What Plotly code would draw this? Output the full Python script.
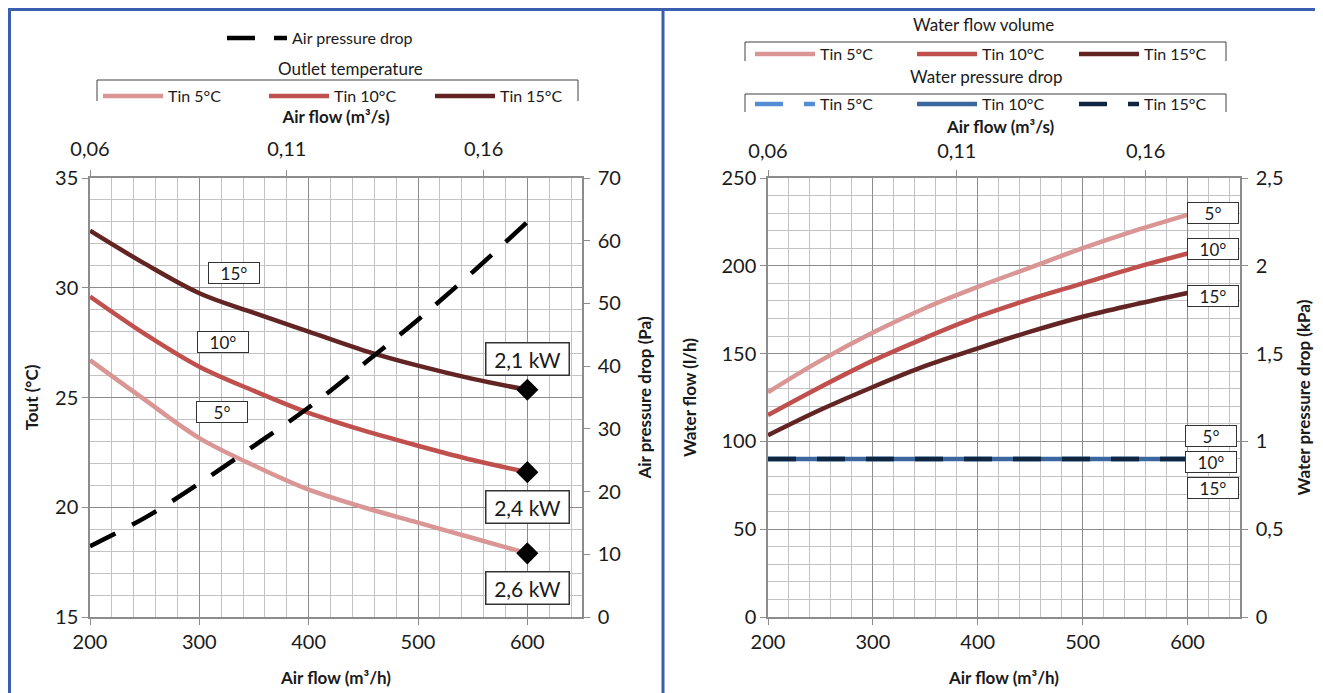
import plotly.graph_objects as go

# ---------------- data ----------------
air_flow = [200, 250, 300, 350, 400, 450, 500, 550, 600]          # m3/h
tout_5 = [26.7, 24.9, 23.15, 21.9, 20.8, 20.0, 19.3, 18.6, 17.9]  # degC
tout_10 = [29.6, 27.9, 26.4, 25.3, 24.3, 23.5, 22.8, 22.15, 21.6]
tout_15 = [32.6, 31.1, 29.75, 28.85, 28.0, 27.15, 26.45, 25.85, 25.35]
air_dp = [11.3, 15.8, 21.3, 27.3, 33.4, 40.3, 47.4, 55.0, 63.0]   # Pa
water_flow_5 = [128, 146, 162, 176, 188, 199, 210, 220, 229]       # l/h
water_flow_10 = [115, 131, 146, 159, 171, 181, 190, 199, 207]
water_flow_15 = [103.5, 118, 131, 143, 153, 162.5, 171, 178, 184.5]
water_dp_5 = [0.9, 0.9, 0.9, 0.9, 0.9, 0.9, 0.9, 0.9, 0.9]         # kPa
water_dp_10 = [0.9, 0.9, 0.9, 0.9, 0.9, 0.9, 0.9, 0.9, 0.9]
water_dp_15 = [0.9, 0.9, 0.9, 0.9, 0.9, 0.9, 0.9, 0.9, 0.9]
series_names = ["Tin 5°C", "Tin 10°C", "Tin 15°C"]
curve_labels = ["5°", "10°", "15°"]
capacity_labels = ["2,6 kW", "2,4 kW", "2,1 kW"]   # for Tin 5, 10, 15
top_ticks = [0.06, 0.11, 0.16]                      # m3/s

# ---------------- style ----------------
PAGE_W, PAGE_H = 1323, 693
OFF = 8                       # default body margin of the html page
W, H = PAGE_W - OFF, PAGE_H - OFF
FONT = "Lato"
reds = ["#D99694", "#C0504D", "#632523"]
blues = ["#558ED5", "#3B679E", "#10253F"]
major_grid = "#8C8C8C"
minor_grid = "#C3C3C3"
axis_col = "#8C8C8C"
txt = "#1A1A1A"
frame_blue = "#3A5FAF"


def px(x):
    return (x - OFF) / W


def py(y):
    return 1 - (y - OFF) / H


fig = go.Figure()

# ----- left chart: outlet temperature -----
for name, vals, col in zip(series_names, [tout_5, tout_10, tout_15], reds):
    fig.add_trace(go.Scatter(x=air_flow, y=vals, name=name, mode="lines",
                             line=dict(color=col, width=4.5, shape="spline"),
                             xaxis="x", yaxis="y", legend="legend2"))
fig.add_trace(go.Scatter(x=air_flow, y=air_dp, name="Air pressure drop", mode="lines",
                         line=dict(color="black", width=4.5, dash="28px,19px", shape="spline"),
                         xaxis="x", yaxis="y2", legend="legend"))
fig.add_trace(go.Scatter(x=[air_flow[-1]] * 3, y=[tout_5[-1], tout_10[-1], tout_15[-1]],
                         mode="markers", showlegend=False, hoverinfo="skip",
                         marker=dict(symbol="diamond", size=17, color="black"),
                         xaxis="x", yaxis="y"))
# dummy trace to keep the top (m3/s) axis alive
fig.add_trace(go.Scatter(x=top_ticks, y=[None] * 3, mode="lines", showlegend=False,
                         hoverinfo="skip", xaxis="x2", yaxis="y"))

# ----- right chart: water flow & water pressure drop -----
for name, vals, col in zip(series_names, [water_flow_5, water_flow_10, water_flow_15], reds):
    fig.add_trace(go.Scatter(x=air_flow, y=vals, name=name, mode="lines",
                             line=dict(color=col, width=4.5, shape="spline"),
                             xaxis="x3", yaxis="y3", legend="legend3"))
wdp_dash = ["28px,21px", "solid", "28px,21px"]
for name, vals, col, dsh in zip(series_names, [water_dp_5, water_dp_10, water_dp_15], blues, wdp_dash):
    fig.add_trace(go.Scatter(x=air_flow, y=vals, name=name, mode="lines",
                             line=dict(color=col, width=4.5, dash=dsh),
                             xaxis="x3", yaxis="y4", legend="legend4"))
fig.add_trace(go.Scatter(x=top_ticks, y=[None] * 3, mode="lines", showlegend=False,
                         hoverinfo="skip", xaxis="x4", yaxis="y3"))

# ----- axes -----
tickfont = dict(family=FONT, size=20, color=txt)
titlefont = dict(family=FONT, size=17, color=txt, weight="bold")


def bottom_x(domain, anchor):
    return dict(domain=domain, anchor=anchor, range=[200, 650], tick0=200, dtick=100,
                showgrid=True, gridcolor=major_grid, gridwidth=1,
                minor=dict(tick0=200, dtick=20, showgrid=True, gridcolor=minor_grid, gridwidth=1),
                showline=True, linecolor=axis_col, linewidth=1.5, mirror=False,
                ticks="outside", ticklen=6, tickcolor=axis_col, tickfont=tickfont,
                title=dict(text="Air flow (m³/h)", font=titlefont, standoff=20),
                zeroline=False, fixedrange=True, automargin=False)


def top_x(overlay, anchor, title, standoff, lblstand):
    return dict(overlaying=overlay, anchor=anchor, side="top", range=[0.06, 0.185],
                tickvals=top_ticks, showgrid=False, showline=True, linecolor=axis_col,
                linewidth=1.5, ticks="outside", ticklen=6, tickcolor=axis_col,
                tickfont=tickfont, ticklabelstandoff=lblstand,
                title=dict(text=title, font=titlefont, standoff=standoff),
                zeroline=False, automargin=False)


def left_y(domain, anchor, rng, dtick, mdtick, title, standoff):
    return dict(domain=domain, anchor=anchor, range=rng, tick0=rng[0], dtick=dtick,
                showgrid=True, gridcolor=major_grid,
                minor=dict(tick0=rng[0], dtick=mdtick, showgrid=True, gridcolor=minor_grid),
                showline=True, linecolor=axis_col, linewidth=1.5,
                ticks="outside", ticklen=6, tickcolor=axis_col, tickfont=tickfont,
                title=dict(text=title, font=titlefont, standoff=standoff), zeroline=False,
                automargin=False)


def right_y(overlay, anchor, rng, dtick, title, standoff):
    return dict(overlaying=overlay, anchor=anchor, side="right", range=rng, dtick=dtick,
                showgrid=False, showline=True, linecolor=axis_col, linewidth=1.5,
                ticks="outside", ticklen=6, tickcolor=axis_col, tickfont=tickfont,
                ticklabelstandoff=4,
                title=dict(text=title, font=titlefont, standoff=standoff),
                zeroline=False, automargin=False)


ydom = [py(617), py(178)]
fig.update_layout(
    xaxis=bottom_x([px(90), px(582)], "y"),
    xaxis2=top_x("x", "y", "Air flow (m³/s)", 8, 6),
    yaxis=left_y(ydom, "x", [15, 35], 5, 1, "Tout (°C)", 12),
    yaxis2=right_y("y", "x", [0, 70], 10, "Air pressure drop (Pa)", 19),
    xaxis3=bottom_x([px(768), px(1240)], "y3"),
    xaxis4=top_x("x3", "y3", "", 0, 4),
    yaxis3=left_y(ydom, "x3", [0, 250], 50, 10, "Water flow (l/h)", 20),
    yaxis4=right_y("y3", "x3", [0, 2.5], 0.5, "Water pressure drop (kPa)", 16),
)

# ----- legends -----
legfont = dict(family=FONT, size=16, color=txt)
ITEMW = 60


def leg(x, y, ew):
    return dict(x=px(x), y=py(y), xanchor="left", yanchor="middle", orientation="h",
                font=legfont, bgcolor="rgba(0,0,0,0)", itemwidth=ITEMW,
                entrywidth=ew, entrywidthmode="pixels", tracegroupgap=0)


fig.update_layout(
    legend=leg(222, 38, 140),
    legend2=leg(98, 96, 91),
    legend3=leg(750, 54, 87),
    legend4=leg(750, 104, 87),
)

# ----- shapes: frame and legend brackets -----
shapes = [
    dict(type="rect", xref="paper", yref="paper", x0=px(9.5), x1=px(1318), y0=py(710), y1=py(9.5),
         line=dict(color=frame_blue, width=3)),
    dict(type="line", xref="paper", yref="paper", x0=px(663), x1=px(663), y0=py(710), y1=py(9.5),
         line=dict(color=frame_blue, width=3)),
]


def bracket(x0, x1, ytop, ybot):
    return dict(type="path", xref="paper", yref="paper",
                path=f"M {px(x0)} {py(ybot)} L {px(x0)} {py(ytop)} L {px(x1)} {py(ytop)} L {px(x1)} {py(ybot)}",
                line=dict(color="#404040", width=1))


shapes += [bracket(97, 578, 80, 101), bracket(745, 1226, 42, 61), bracket(745, 1226, 94, 112)]

# ----- annotations -----
ann = []


def title_ann(text, x, y, font):
    ann.append(dict(text=text, x=px(x), y=py(y), xref="paper", yref="paper",
                    xanchor="center", yanchor="middle", showarrow=False, font=font))


legtitle = dict(family=FONT, size=17, color=txt)
title_ann("Outlet temperature", 351, 68, legtitle)
title_ann("Water flow volume", 984, 25, legtitle)
title_ann("Water pressure drop", 986, 77, legtitle)
title_ann("Air flow (m³/s)", 1000, 127, titlefont)

boxfont = dict(family=FONT, size=17, color=txt)


def box(text, x, y, xr, yr, w, h, font=boxfont, bw=1):
    ann.append(dict(text=text, x=x, y=y, xref=xr, yref=yr, showarrow=False, font=font,
                    xanchor="center", yanchor="middle",
                    bgcolor="white", bordercolor="#333333", borderwidth=bw,
                    width=w, height=h, borderpad=0))


# left chart curve labels (placed near 330 m3/h, above each curve)
for lab, yv, xv in zip(curve_labels, [24.35, 27.55, 30.65], [321, 322, 332]):
    box(lab, xv, yv, "x", "y", 50, 20)
# capacity labels at the 600 m3/h end points
kwfont = dict(family=FONT, size=21, color=txt)
box(capacity_labels[2], air_flow[-1], tout_15[-1] + 1.4, "x", "y", 82, 31, kwfont, 1.5)
box(capacity_labels[1], air_flow[-1], tout_10[-1] - 1.6, "x", "y", 82, 31, kwfont, 1.5)
box(capacity_labels[0], air_flow[-1], tout_5[-1] - 1.6, "x", "y", 82, 31, kwfont, 1.5)

# right chart labels
for lab, yv in zip(curve_labels, [water_flow_5[-1] + 1, water_flow_10[-1] + 2.5, water_flow_15[-1] - 1.5]):
    box(lab, 624, yv, "x3", "y3", 50, 20)
for lab, yv, xo in zip(curve_labels, [1.03, 0.885, 0.735], [622, 622, 624]):
    box(lab, xo, yv, "x3", "y4", 50, 20)

fig.update_layout(
    width=W, height=H, margin=dict(l=0, r=0, t=0, b=0, autoexpand=False),
    paper_bgcolor="white", plot_bgcolor="white",
    separators=", ",
    font=dict(family=FONT, color=txt),
    shapes=shapes, annotations=ann,
    hovermode=False,
)

fig.write_html("out.html")
